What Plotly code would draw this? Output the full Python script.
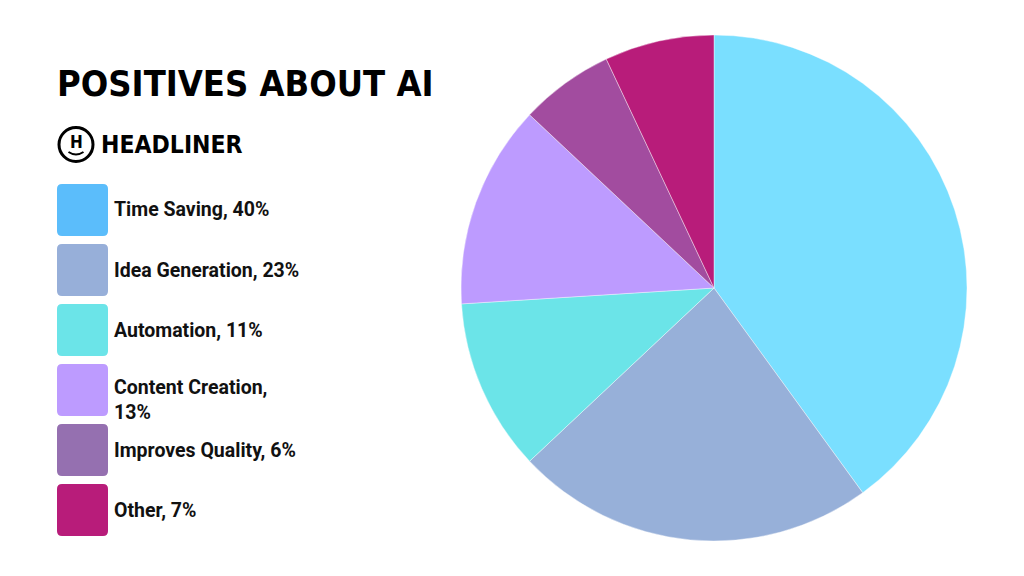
import plotly.graph_objects as go

labels = ["Time Saving", "Idea Generation", "Automation", "Content Creation", "Improves Quality", "Other"]
values = [40, 23, 11, 13, 6, 7]
legend_text = ["Time Saving, 40%", "Idea Generation, 23%", "Automation, 11%",
               "Content Creation,<br>13%", "Improves Quality, 6%", "Other, 7%"]
pie_colors = ["#7ADFFF", "#97B0D9", "#6BE4E8", "#BD9BFF", "#A24C9F", "#B81C7A"]
swatch_colors = ["#5BBDFB", "#97AFD9", "#6BE4E8", "#BD9BFF", "#9570B0", "#B81C7A"]

W, H = 1024, 576
def px(x): return x / W
def py(y): return 1 - y / H

COND = "DejaVu Sans Condensed, DejaVu Sans"

fig = go.Figure()
fig.add_trace(go.Pie(
    labels=labels, values=values, sort=False, direction="clockwise", rotation=0,
    marker=dict(colors=pie_colors, line=dict(color="white", width=0.4)),
    textinfo="none", hoverinfo="label+percent", showlegend=False,
    domain=dict(x=[px(461), px(967)], y=[py(541), py(35)]),
))

shapes = []
annotations = []

def rrect(x0, y0, x1, y1, r):
    X0, X1 = px(x0), px(x1)
    Y0, Y1 = py(y0), py(y1)
    rx, ry = r / W, r / H
    return (f"M {X0+rx},{Y0} L {X1-rx},{Y0} Q {X1},{Y0} {X1},{Y0-ry} "
            f"L {X1},{Y1+ry} Q {X1},{Y1} {X1-rx},{Y1} L {X0+rx},{Y1} "
            f"Q {X0},{Y1} {X0},{Y1+ry} L {X0},{Y0-ry} Q {X0},{Y0} {X0+rx},{Y0} Z")

for i, (txt, c) in enumerate(zip(legend_text, swatch_colors)):
    top = 184 + 60 * i
    shapes.append(dict(type="path", xref="paper", yref="paper",
                       path=rrect(57, top, 108, top + 52, 5),
                       fillcolor=c, line=dict(width=0)))
    cy = top + 26 + (10 if "<br>" in txt else 0)
    annotations.append(dict(x=px(112), y=py(cy), xref="paper", yref="paper",
                            text=f"<b>{txt}</b>", showarrow=False, xanchor="left",
                            yanchor="middle", align="left",
                            font=dict(family="Roboto", size=19.5, color="#111111")))

# Title
annotations.append(dict(x=px(55), y=py(83), xref="paper", yref="paper",
                        text="<b>POSITIVES ABOUT AI</b>", showarrow=False,
                        xanchor="left", yanchor="middle",
                        font=dict(family=COND, size=36, color="black")))

# Headliner logo
shapes.append(dict(type="circle", xref="paper", yref="paper",
                   x0=px(59), x1=px(93), y0=py(127.5), y1=py(161.5),
                   line=dict(color="black", width=3)))
annotations.append(dict(x=px(76), y=py(142), xref="paper", yref="paper",
                        text="<b>H</b>", showarrow=False, xanchor="center", yanchor="middle",
                        font=dict(family=COND, size=17, color="black")))
shapes.append(dict(type="path", xref="paper", yref="paper",
                   path=f"M {px(68.5)},{py(152)} Q {px(76)},{py(157)} {px(83.5)},{py(152)}",
                   line=dict(color="black", width=2)))
annotations.append(dict(x=px(99), y=py(144), xref="paper", yref="paper",
                        text="<b>HEADLINER</b>", showarrow=False, xanchor="left", yanchor="middle",
                        font=dict(family=COND, size=24.5, color="black")))

fig.update_layout(width=W, height=H, margin=dict(l=0, r=0, t=0, b=0),
                  paper_bgcolor="white", plot_bgcolor="white",
                  shapes=shapes, annotations=annotations)
fig.write_html("out.html", config={"displayModeBar": False})
